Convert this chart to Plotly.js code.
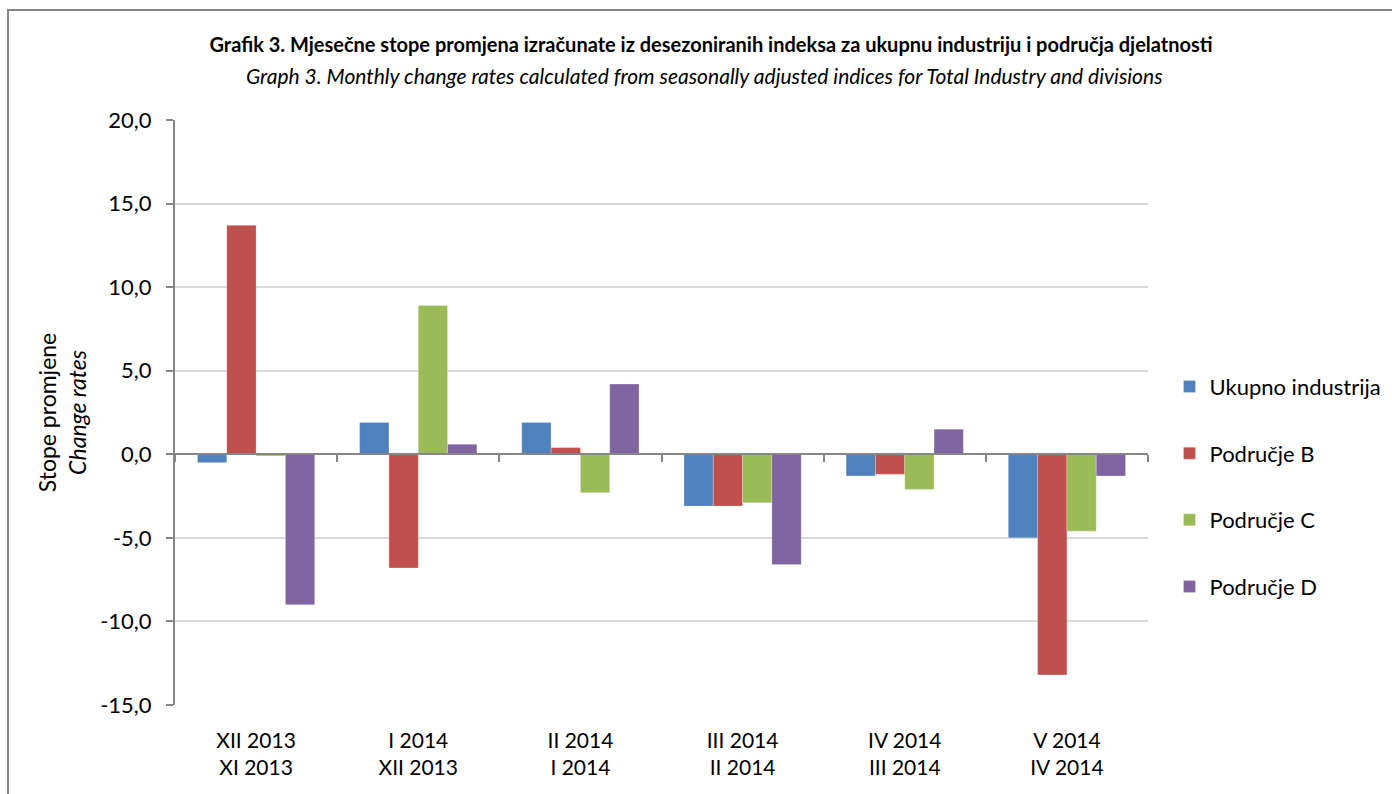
<!DOCTYPE html>
<html>
<head>
<meta charset="utf-8">
<script src="https://cdn.plot.ly/plotly-3.0.1.min.js"></script>
<style>html,body{margin:0;padding:0;background:#fff;}#chart{width:1392px;height:794px;}</style>
</head>
<body>
<div id="chart"></div>
<script>
const categories = ["XII 2013<br>XI 2013", "I 2014<br>XII 2013", "II 2014<br>I 2014", "III 2014<br>II 2014", "IV 2014<br>III 2014", "V 2014<br>IV 2014"];
const seriesNames = ["Ukupno industrija", "Područje B", "Područje C", "Područje D"];
const ukupno = [-0.5, 1.9, 1.9, -3.1, -1.3, -5.0];
const podrucjeB = [13.7, -6.8, 0.4, -3.1, -1.2, -13.2];
const podrucjeC = [-0.1, 8.9, -2.3, -2.9, -2.1, -4.6];
const podrucjeD = [-9.0, 0.6, 4.2, -6.6, 1.5, -1.3];
const yTickVals = [-15, -10, -5, 0, 5, 10, 15, 20];
const yTickText = ["-15,0", "-10,0", "-5,0", "0,0", "5,0", "10,0", "15,0", "20,0"];

const colors = ["#4F81BD", "#C0504D", "#9BBB59", "#8064A2"];
const seriesValues = [ukupno, podrucjeB, podrucjeC, podrucjeD];
const FONT = "Lato, 'Open Sans', sans-serif";

const traces = seriesValues.map((vals, i) => ({
  type: "bar",
  name: seriesNames[i],
  x: categories,
  y: vals,
  legendgroup: "g" + i,
  marker: {color: colors[i], line: {color: "rgba(255,255,255,0.5)", width: 0.5}},
  hoverinfo: "skip"
}));
// helper trace for the zero-line axis (carries categories only)
traces.push({
  type: "scatter", mode: "none", x: categories, y: categories.map(() => null),
  xaxis: "x2", showlegend: false, hoverinfo: "skip"
});

const layout = {
  width: 1392, height: 794,
  paper_bgcolor: "#fff", plot_bgcolor: "#fff",
  margin: {l: 175, r: 244, t: 120, b: 89, autoexpand: false},
  font: {family: FONT, size: 20, color: "#000"},
  barmode: "group",
  bargap: 0.277,
  bargroupgap: 0,
  title: {
    text: "<b>Grafik 3. Mjesečne stope promjena izračunate iz desezoniranih indeksa za ukupnu industriju i područja djelatnosti</b>",
    font: {family: FONT, size: 20, color: "#000"},
    x: 0.551, xref: "paper", xanchor: "center",
    y: 1 - 45/794, yref: "container", yanchor: "middle"
  },
  annotations: [{
    text: "<i>Graph 3. Monthly change rates calculated from seasonally adjusted indices for Total Industry and divisions</i>",
    xref: "paper", yref: "paper", x: 0.5447, y: 1.0769, xanchor: "center", yanchor: "middle",
    showarrow: false, font: {family: FONT, size: 21, color: "#000"}
  }],
  xaxis: {
    type: "category",
    range: [-0.5, 5.5],
    showline: false, showgrid: false, zeroline: false,
    ticks: "", tickfont: {family: FONT, size: 21, color: "#000"},
    ticklabelstandoff: 21,
    fixedrange: true
  },
  xaxis2: {
    type: "category",
    overlaying: "x", anchor: "free", position: 15/35,
    range: [-0.5, 5.5],
    showline: true, linecolor: "#868686", linewidth: 2,
    ticks: "outside", tickson: "boundaries", ticklen: 7, tickcolor: "#868686", tickwidth: 2,
    showticklabels: false, showgrid: false, zeroline: false
  },
  yaxis: {
    range: [-15, 20],
    tickvals: yTickVals, ticktext: yTickText,
    showgrid: true, gridcolor: "#D9D9D9", gridwidth: 2,
    zeroline: false,
    showline: true, linecolor: "#868686", linewidth: 2,
    ticks: "outside", ticklen: 7, tickcolor: "#868686", tickwidth: 2,
    tickfont: {family: FONT, size: 22, color: "#000"},
    ticklabelstandoff: 10,
    title: {text: "Stope promjene<br><i>Change rates</i>", font: {family: FONT, size: 23, color: "#000"}, standoff: 7},
    fixedrange: true
  },
  legend: {
    x: 1.0221, xanchor: "left", y: 0.373, yanchor: "middle",
    font: {family: FONT, size: 22, color: "#000"},
    tracegroupgap: 35,
    bgcolor: "rgba(0,0,0,0)"
  },
  shapes: [{
    type: "rect", xref: "paper", yref: "paper",
    x0: (8 - 175) / 973, x1: 1.4, y0: -0.4, y1: (705 - 10) / 585,
    line: {color: "#868686", width: 2}, layer: "below"
  }]
};

Plotly.newPlot("chart", traces, layout, {displayModeBar: false, staticPlot: true});
</script>
</body>
</html>
